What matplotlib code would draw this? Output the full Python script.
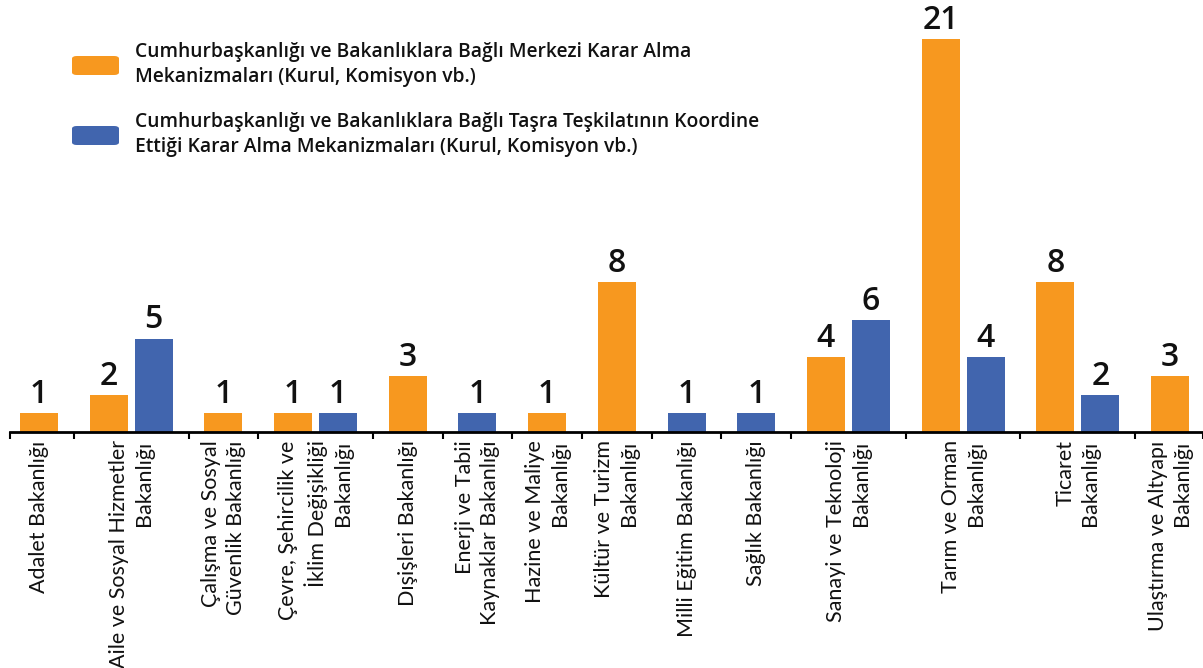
import matplotlib
matplotlib.use("Agg")
import matplotlib.pyplot as plt
from matplotlib.patches import FancyBboxPatch

categories = [
    "Adalet Bakanlığı",
    "Aile ve Sosyal Hizmetler\nBakanlığı",
    "Çalışma ve Sosyal\nGüvenlik Bakanlığı",
    "Çevre, Şehircilik ve\nİklim Değişikliği\nBakanlığı",
    "Dışişleri Bakanlığı",
    "Enerji ve Tabii\nKaynaklar Bakanlığı",
    "Hazine ve Maliye\nBakanlığı",
    "Kültür ve Turizm\nBakanlığı",
    "Milli Eğitim Bakanlığı",
    "Sağlık Bakanlığı",
    "Sanayi ve Teknoloji\nBakanlığı",
    "Tarım ve Orman\nBakanlığı",
    "Ticaret\nBakanlığı",
    "Ulaştırma ve Altyapı\nBakanlığı",
]
merkezi = [1, 2, 1, 1, 3, 0, 1, 8, 0, 0, 4, 21, 8, 3]
tasra = [0, 5, 0, 1, 0, 1, 0, 0, 1, 1, 6, 4, 2, 0]
series_names = [
    "Cumhurbaşkanlığı ve Bakanlıklara Bağlı Merkezi Karar Alma\nMekanizmaları (Kurul, Komisyon vb.)",
    "Cumhurbaşkanlığı ve Bakanlıklara Bağlı Taşra Teşkilatının Koordine\nEttiği Karar Alma Mekanizmaları (Kurul, Komisyon vb.)",
]
colors = ["#F7981F", "#4165AE"]

W, H = 1203, 668
fig = plt.figure(figsize=(W / 100, H / 100), dpi=100)
ax = fig.add_axes([10 / W, 236 / H, 1193 / W, 432 / H])

# layout: bars only where a value exists, grouped per category
w = 1.0
gin = 7 / 38
gout = 31.7 / 38
x = 0.0
centers, lefts, rights = [], [], []
for i in range(len(categories)):
    gl = x
    bc = []
    for s, vals in enumerate([merkezi, tasra]):
        v = vals[i]
        if v > 0:
            ax.bar(x + w / 2, v, width=w, color=colors[s], zorder=2)
            ax.annotate(str(v), (x + w / 2, v), xytext=(0, 1.5), textcoords="offset points",
                        ha="center", va="bottom", fontsize=23, fontweight="semibold",
                        family="Open Sans", color="#111111")
            bc.append(x + w / 2)
            x += w + gin
    x -= gin
    lefts.append(gl)
    rights.append(x)
    centers.append(sum(bc) / len(bc))
    x += gout

xl = -10 / 38
xr = rights[-1] + 14 / 38
ax.set_xlim(xl, xr)
ax.set_ylim(0, 432 / 18.7)

bounds = [xl] + [(rights[i] + lefts[i + 1]) / 2 for i in range(len(categories) - 1)] + [xr]
ax.set_xticks(centers)
ax.set_xticklabels(categories, rotation=90, ha="center", va="top", multialignment="right",
                   fontsize=15.5, family="Lato", linespacing=1.3, color="#111111")
ax.tick_params(axis="x", which="major", length=0, pad=6)
ax.set_xticks(bounds, minor=True)
ax.tick_params(axis="x", which="minor", length=5, width=1.5, color="black", direction="out")
ax.set_yticks([])
for sp in ["left", "right", "top"]:
    ax.spines[sp].set_visible(False)
ax.spines["bottom"].set_linewidth(2)
ax.spines["bottom"].set_color("black")
ax.spines["bottom"].set_zorder(3)

# legend
leg_y = [65.5, 135.5]
for s in range(2):
    yc = leg_y[s]
    p = FancyBboxPatch((72 / W, (H - yc - 9.5) / H), 47 / W, 19 / H,
                       boxstyle="round,pad=0,rounding_size=0.004",
                       transform=fig.transFigure, facecolor=colors[s], edgecolor="none")
    fig.patches.append(p)
    fig.text(135 / W, (H - yc + 1) / H, series_names[s], ha="left", va="center",
             fontsize=13.9, family="Open Sans", fontweight="semibold", linespacing=1.3, color="#111111")

fig.savefig("out.png", dpi=100)
